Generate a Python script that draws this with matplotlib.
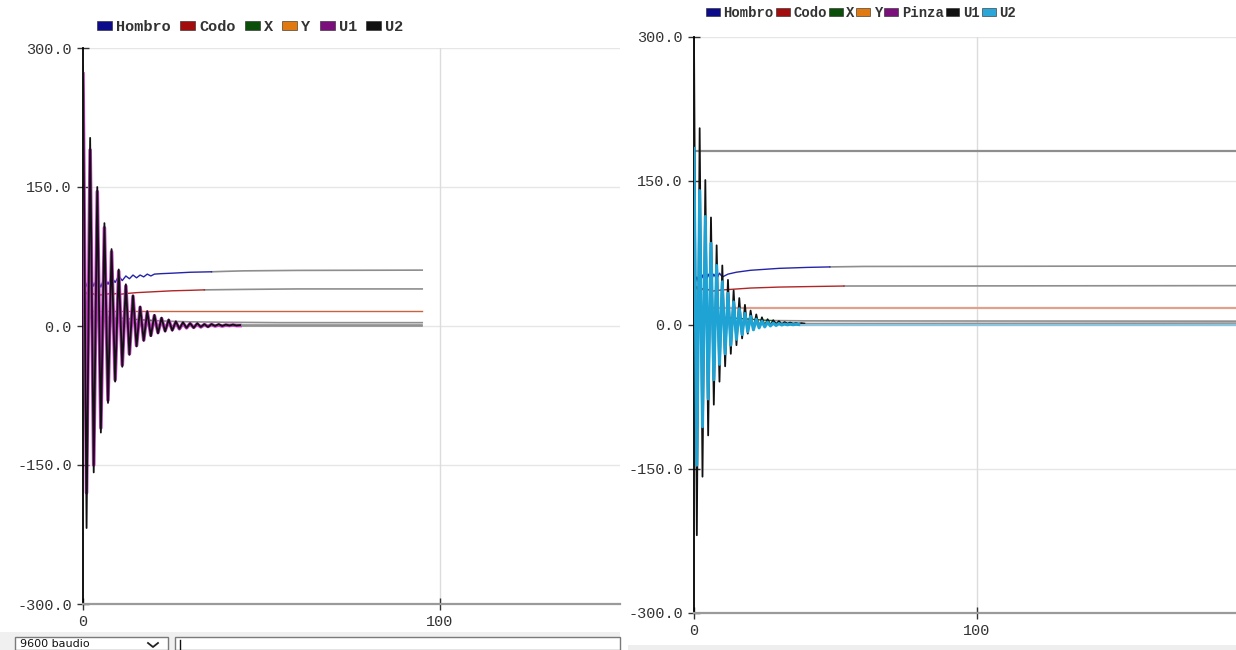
"""Two serial-plotter panels: arm joint angles and control signals."""

import matplotlib
matplotlib.use("Agg")
import matplotlib.pyplot as plt
from matplotlib.patches import Patch, Rectangle
from matplotlib.lines import Line2D

MONO = "Liberation Mono"
GRAY = "#8e8e8e"

# ---- left panel data (x = sample index) ----
left_names = ["Hombro", "Codo", "X", "Y", "U1", "U2"]

left_hombro_t = list(range(21)) + [22, 25, 30, 36, 40, 45, 60, 95]
left_hombro_v = [37, 44, 55, 43, 52, 42, 53, 45, 53, 47, 54, 49, 54, 51, 55, 52, 55, 53,
                 56, 54, 56, 56.5, 57, 58, 58.5, 59, 59.5, 60, 60.3]

left_codo_t = list(range(11)) + [12, 15, 20, 25, 30, 34, 45, 60, 95]
left_codo_v = [28, 36, 31, 35, 30, 34, 32, 35, 33, 35, 34, 35, 36, 37, 38, 38.5, 39,
               39.5, 40, 40]

left_x_t = list(range(11)) + [12, 15, 19, 25, 30, 40, 55, 95]
left_x_v = [10, 6, 9, 7, 10, 8, 11, 9, 10, 8, 9, 8, 7, 6, 5, 4.5, 4, 3.6, 3.6]

left_y_t = [0, 95]
left_y_v = [16, 16]

left_u1_t = list(range(45)) + [95]
left_u1_v = [272, -180, 190, -150, 145, -110, 106, -80, 80, -58, 59, -42, 43, -30, 32,
             -21, 20, -15, 15, -10, 11, -7, 8, -5, 6, -4, 4, -3, 3, -2, 2.5, -1.5, 2,
             -1, 1.5, -0.5, 1.5, 0, 1, 0, 1, 0.5, 1, 0.5, 0.5, 0.5]

left_u2_t = list(range(45)) + [95]
left_u2_v = [280, -218, 203, -158, 150, -115, 111, -83, 83, -60, 61, -44, 45, -31, 33,
             -22, 21, -16, 16, -11, 12, -8, 9, -6, 7, -5, 5, -3, 4, -2, 3, -2, 3, -1,
             2, -1, 2, 0, 2, 0, 1.5, 0.5, 1.5, 0.5, 1, 1]

# ---- right panel data ----
right_names = ["Hombro", "Codo", "X", "Y", "Pinza", "U1", "U2"]

right_hombro_t = list(range(11)) + [12, 15, 20, 25, 30, 40, 48, 60, 192]
right_hombro_v = [40, 50, 42, 52, 44, 53, 46, 53, 48, 54, 50, 53, 55, 57, 58, 59, 60,
                  60.5, 61, 61.5]

right_codo_t = list(range(7)) + [8, 10, 15, 20, 30, 40, 53, 192]
right_codo_v = [33, 40, 33, 38, 34, 37, 35, 36, 36.5, 37.5, 38.5, 39.5, 40, 40.6, 41]

right_x_t = list(range(9)) + [10, 15, 20, 25, 28, 40, 60, 192]
right_x_v = [12, 7, 11, 8, 10, 8, 10, 8, 9, 8, 7, 6, 5, 4.6, 4.3, 4.2, 4]

right_y_t = [0, 192]
right_y_v = [17.5, 17.5]

right_pinza_t = [0, 192]
right_pinza_v = [181, 181]

right_u1_t = list(range(40)) + [192]
right_u1_v = [298, -219, 205, -158, 151, -115, 112, -83, 83, -59, 62, -43, 47, -30, 36,
              -21, 28, -14, 21, -9, 15, -5, 11, -3, 8, -1, 6, 0, 5, 1, 4, 1, 3, 1.5,
              2.5, 1.5, 2, 1.5, 2, 1.5, 2]

right_u2_t = list(range(38)) + [192]
right_u2_v = [184, -146, 140, -106, 113, -77, 85, -57, 62, -41, 45, -30, 33, -21, 24,
              -15, 17, -10, 12, -7, 9, -5, 6, -3, 4, -2, 3, -1, 2, -0.5, 1.5, 0, 1,
              0.2, 0.8, 0.3, 0.7, 0.5, 0.5]

y_ticks = [-300, -150, 0, 150, 300]
x_ticks = [0, 100]


def draw_series(ax, t, v, color, cut, tail_color=GRAY, lw=1.0, tail_lw=1.2, z=2):
    """Draw a series in its own colour up to `cut`, then in the tail colour."""
    head = [(a, b) for a, b in zip(t, v) if a <= cut]
    tail = [(a, b) for a, b in zip(t, v) if a >= cut]
    if len(tail) > 1:
        ax.plot(*zip(*tail), color=tail_color, lw=tail_lw, zorder=z)
    if len(head) > 1:
        ax.plot(*zip(*head), color=color, lw=lw, zorder=z + 0.1)


def style_axes(ax, xmax):
    ax.set_xlim(0, xmax)
    ax.set_ylim(-300, 300)
    ax.set_yticks(y_ticks)
    ax.set_yticklabels([f"{v:.1f}" for v in y_ticks])
    ax.set_xticks(x_ticks)
    ax.set_xticklabels([str(v) for v in x_ticks])
    for s in ["top", "right"]:
        ax.spines[s].set_visible(False)
    ax.spines["left"].set_color("black")
    ax.spines["left"].set_linewidth(1.3)
    ax.spines["bottom"].set_color("#9a9a9a")
    ax.spines["bottom"].set_linewidth(1.6)
    ax.tick_params(axis="both", direction="inout", length=8, width=1, colors="#333333",
                   labelsize=11, pad=4)
    for lab in ax.get_xticklabels() + ax.get_yticklabels():
        lab.set_family(MONO)
    for y in [-150, 0, 150, 300]:
        ax.axhline(y, color="#e6e6e6", lw=1, zorder=0)
    ax.axvline(100, color="#dcdcdc", lw=1, zorder=0)


def add_legend(fig, names, colors, x, y, spacing, size):
    handles = [Patch(facecolor=c, edgecolor="#222222", lw=0.4) for c in colors]
    leg = fig.legend(handles, names, loc="center left", bbox_to_anchor=(x, y),
                     bbox_transform=fig.transFigure, ncol=len(names), frameon=False,
                     handlelength=1.0, handleheight=0.55, handletextpad=0.25,
                     columnspacing=spacing, borderpad=0, borderaxespad=0,
                     prop={"family": MONO, "size": size, "weight": "bold"})
    for txt in leg.get_texts():
        txt.set_color("#333333")


W, H = 1236, 650
fig = plt.figure(figsize=(W / 100, H / 100), dpi=100)
fig.patch.set_facecolor("white")

# left panel
axl = fig.add_axes([83 / W, 1 - 604 / H, (620 - 83) / W, (604 - 48) / H])
style_axes(axl, 150.4)
draw_series(axl, left_y_t, left_y_v, "#c8643c", 95, lw=1.0)
draw_series(axl, left_x_t, left_x_v, "#1f6b1f", 19)
draw_series(axl, left_codo_t, left_codo_v, "#b02525", 34)
draw_series(axl, left_hombro_t, left_hombro_v, "#2424a8", 36)
draw_series(axl, left_u1_t, left_u1_v, "#c23dc2", 44, lw=2.6, z=3)
draw_series(axl, left_u2_t, left_u2_v, "#111111", 44, lw=1.3, z=4)
add_legend(fig, left_names,
           ["#0c0c8a", "#a30c0c", "#0b4f0b", "#e07a10", "#7b0f7b", "#111111"],
           97 / W, 1 - 27 / H, 0.6, 11)

# right panel
axr = fig.add_axes([694 / W, 1 - 613 / H, (W - 694) / W, (613 - 37) / H])
style_axes(axr, 191.5)
draw_series(axr, right_pinza_t, right_pinza_v, GRAY, 0, lw=1.5, tail_lw=1.6)
draw_series(axr, right_y_t, right_y_v, "#e0a08c", 192, lw=1.6)
draw_series(axr, right_x_t, right_x_v, "#1f6b1f", 28)
draw_series(axr, right_codo_t, right_codo_v, "#b02525", 53)
draw_series(axr, right_hombro_t, right_hombro_v, "#2424a8", 48)
draw_series(axr, right_u1_t, right_u1_v, "#111111", 39, lw=1.3, z=3)
draw_series(axr, right_u2_t, right_u2_v, "#1ea3d4", 37, tail_color="#8cc4e0",
            lw=2.2, tail_lw=1.6, z=4)
add_legend(fig, right_names,
           ["#0c0c8a", "#a30c0c", "#0b4f0b", "#e07a10", "#7b0f7b", "#111111", "#2aa6d8"],
           706 / W, 1 - 13 / H, 0.15, 10)

# bottom toolbar of the left window
fig.patches.append(Rectangle((0, 0), 620 / W, 18 / H, transform=fig.transFigure,
                             facecolor="#f0f0f0", edgecolor="none", zorder=0))
fig.patches.append(Rectangle((15 / W, 0), 153 / W, 13 / H, transform=fig.transFigure,
                             facecolor="white", edgecolor="#7a7a7a", lw=1, zorder=1))
fig.text(20 / W, 6 / H, "9600 baudio", fontsize=8, family="DejaVu Sans",
         color="#111111", va="center")
fig.lines.append(Line2D([148 / W, 153 / W, 158 / W], [7 / H, 3 / H, 7 / H],
                        transform=fig.transFigure, color="#222222", lw=1.3))
fig.patches.append(Rectangle((175 / W, 0), 445 / W, 13 / H, transform=fig.transFigure,
                             facecolor="white", edgecolor="#7a7a7a", lw=1, zorder=1))
fig.lines.append(Line2D([180 / W, 180 / W], [1 / H, 10 / H],
                        transform=fig.transFigure, color="#111111", lw=1))
# bottom strip of the right window
fig.patches.append(Rectangle((628 / W, 0), (W - 628) / W, 5 / H, transform=fig.transFigure,
                             facecolor="#eeeeee", edgecolor="none", zorder=0))

fig.savefig("out.png", dpi=100)
